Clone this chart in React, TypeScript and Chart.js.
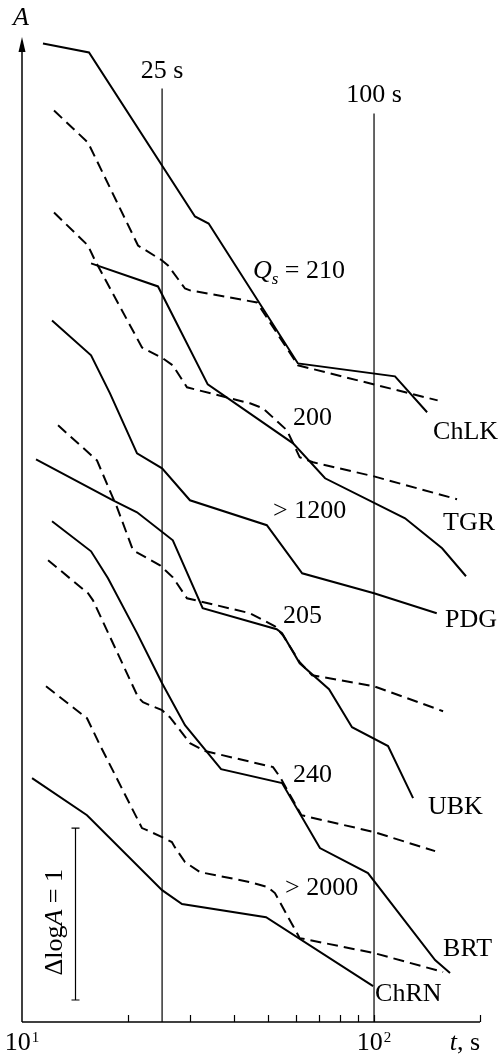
import { useEffect, useRef } from "react";
import { Chart, registerables } from "chart.js";

Chart.register(...registerables);

// Time axis (s), logarithmic
const T_MIN = 10;
const T_MAX = 200;
const X_TICKS = [20, 30, 40, 50, 60, 70, 80, 90, 100, 200];
const X_TICK_LABELS = [
  { t: 10, base: "10", exp: "1" },
  { t: 100, base: "10", exp: "2" },
];
// Amplitude axis in log A units (arbitrary origin)
const LOGA_MIN = 0;
const LOGA_MAX = 5.73;

// Reference times
const REF_TIMES = [25, 100];
const REF_TOPS = [5.43, 5.285];
const REF_LABELS = ["25 s", "100 s"];
const REF_LABEL_Y = [5.494, 5.349];

// ChLK
const chlkSolidT = [11.47, 15.5, 31.0, 33.9, 60.8, 114.7, 141.5];
const chlkSolidA = [5.692, 5.64, 4.686, 4.645, 3.831, 3.756, 3.547];
const chlkDashT = [12.33, 15.4, 21.36, 25.0, 25.99, 29.04, 30.0, 46.5, 60.8, 151.6];
const chlkDashA = [5.302, 5.116, 4.517, 4.43, 4.401, 4.267, 4.256, 4.186, 3.82, 3.616];

// TGR
const tgrSolidT = [15.71, 24.34, 33.7, 58.9, 72.6, 122.5, 156.1, 182.5];
const tgrSolidA = [4.413, 4.279, 3.709, 3.366, 3.163, 2.93, 2.756, 2.593];
const tgrDashT = [12.33, 15.4, 16.12, 21.92, 25.15, 26.82, 29.42, 44.43, 48.38, 56.6, 61.5, 67.1, 100, 172.1];
const tgrDashA = [4.709, 4.517, 4.43, 3.924, 3.86, 3.82, 3.692, 3.599, 3.57, 3.442, 3.285, 3.256, 3.174, 3.041];

// PDG
const pdgSolidT = [12.17, 15.71, 17.78, 21.22, 25.0, 30.0, 49.6, 62.5, 100, 150.7];
const pdgSolidA = [4.081, 3.878, 3.657, 3.308, 3.221, 3.035, 2.89, 2.61, 2.494, 2.378];

// UBK
const ubkSolidT = [10.96, 18.14, 21.22, 26.82, 32.6, 52.9, 54.8, 61.5, 74.5, 86.6, 109.6, 129.1];
const ubkSolidA = [3.273, 3.035, 2.965, 2.802, 2.407, 2.285, 2.262, 2.087, 1.936, 1.715, 1.605, 1.302];
const ubkDashT = [12.66, 16.33, 18.14, 18.62, 20.67, 24.66, 26.82, 29.42, 44.43, 52.3, 55.1, 61.5, 66.7, 100, 157.1];
const ubkDashA = [3.471, 3.267, 3.047, 2.994, 2.744, 2.657, 2.587, 2.465, 2.378, 2.302, 2.25, 2.093, 2.017, 1.953, 1.808];

// BRT
const brtSolidT = [12.17, 15.71, 17.55, 21.22, 25.0, 29.04, 36.77, 54.8, 70.2, 96.1, 149.1, 164.4];
const brtSolidA = [2.913, 2.738, 2.581, 2.262, 1.971, 1.727, 1.471, 1.39, 1.012, 0.866, 0.36, 0.285];
const brtDashT = [11.86, 15.4, 15.91, 21.36, 22.06, 25.0, 26.31, 30.0, 33.1, 51.66, 54.1, 62.2, 100, 149.1];
const brtDashA = [2.686, 2.494, 2.453, 1.89, 1.86, 1.814, 1.773, 1.622, 1.576, 1.483, 1.424, 1.203, 1.105, 0.994];

// ChRN
const chrnSolidT = [10.68, 15.3, 25.0, 28.48, 49.35, 99.4];
const chrnSolidA = [1.419, 1.203, 0.767, 0.686, 0.61, 0.209];
const chrnDashT = [11.7, 15.3, 16.66, 21.92, 22.64, 25.0, 26.65, 27.17, 29.04, 32.03, 44.43, 49.9, 52.3, 61.5, 100, 157.1];
const chrnDashA = [1.953, 1.767, 1.61, 1.128, 1.116, 1.076, 1.047, 1.017, 0.93, 0.872, 0.814, 0.785, 0.75, 0.488, 0.401, 0.291];

// Curve annotations: text, anchor (t, log A) at left baseline
const CURVE_LABELS = [
  { text: "200", t: 58.9, a: 3.471 },
  { text: "ChLK", t: 147.1, a: 3.39 },
  { text: "> 1200", t: 51.66, a: 2.93 },
  { text: "TGR", t: 157.1, a: 2.86 },
  { text: "PDG", t: 159.1, a: 2.297 },
  { text: "205", t: 55.1, a: 2.32 },
  { text: "240", t: 58.9, a: 1.395 },
  { text: "UBK", t: 142.3, a: 1.209 },
  { text: "> 2000", t: 55.9, a: 0.738 },
  { text: "BRT", t: 157.1, a: 0.384 },
  { text: "ChRN", t: 100.7, a: 0.122 },
];
const QS_LABEL = { t: 45.3, a: 4.326, value: "210" };

// Scale bar for one decade of amplitude
const BAR_T = 14.15;
const BAR_FROM = 0.128;
const BAR_TEXT_T = 12.95;
const BAR_TEXT_A = 0.58;

const FONT = "'Liberation Serif', 'Times New Roman', serif";

const pts = (ts: number[], as: number[]) => ts.map((t, i) => ({ x: t, y: as[i] }));

const solid = (ts: number[], as: number[]) => ({
  data: pts(ts, as),
  borderColor: "#000",
  borderWidth: 2,
  pointRadius: 0,
  fill: false,
  tension: 0,
});
const dashed = (ts: number[], as: number[]) => ({
  ...solid(ts, as),
  borderDash: [11, 6],
});

const annotate = {
  id: "annotate",
  afterDraw(chart: any) {
    const { ctx, chartArea } = chart;
    const xs = chart.scales.x;
    const ys = chart.scales.y;
    const X = (t: number) => xs.getPixelForValue(t);
    const Y = (a: number) => ys.getPixelForValue(a);
    ctx.save();
    ctx.strokeStyle = "#000";
    ctx.fillStyle = "#000";

    const x0 = X(T_MIN);
    const y0 = Y(LOGA_MIN);
    const top = chartArea.top;

    // axes
    ctx.lineWidth = 1.5;
    ctx.beginPath();
    ctx.moveTo(x0, y0);
    ctx.lineTo(X(T_MAX), y0);
    ctx.stroke();
    ctx.beginPath();
    ctx.moveTo(x0, y0);
    ctx.lineTo(x0, top + 8);
    ctx.stroke();
    // arrow head
    ctx.beginPath();
    ctx.moveTo(x0, top);
    ctx.lineTo(x0 - 3.5, top + 15);
    ctx.lineTo(x0 + 3.5, top + 15);
    ctx.closePath();
    ctx.fill();

    // ticks pointing inward
    ctx.lineWidth = 1.2;
    X_TICKS.forEach((t) => {
      const px = Math.round(X(t)) + 0.5;
      ctx.beginPath();
      ctx.moveTo(px, y0);
      ctx.lineTo(px, y0 - 7);
      ctx.stroke();
    });

    // tick labels 10^n
    ctx.textBaseline = "alphabetic";
    X_TICK_LABELS.forEach((lab) => {
      ctx.font = `26px ${FONT}`;
      const w1 = ctx.measureText(lab.base).width;
      ctx.font = `15px ${FONT}`;
      const w2 = ctx.measureText(lab.exp).width;
      const start = X(lab.t) - (w1 + w2 + 1) / 2;
      ctx.font = `26px ${FONT}`;
      ctx.textAlign = "left";
      ctx.fillText(lab.base, start, y0 + 28);
      ctx.font = `15px ${FONT}`;
      ctx.fillText(lab.exp, start + w1 + 1, y0 + 20);
    });

    // axis titles
    ctx.font = `italic 26px ${FONT}`;
    ctx.textAlign = "left";
    const tW = ctx.measureText("t").width;
    ctx.font = `26px ${FONT}`;
    const sW = ctx.measureText(", s").width;
    const tx = X(T_MAX) - tW - sW;
    ctx.font = `italic 26px ${FONT}`;
    ctx.fillText("t", tx, y0 + 28);
    ctx.font = `26px ${FONT}`;
    ctx.fillText(", s", tx + tW, y0 + 28);
    ctx.font = `italic 26px ${FONT}`;
    ctx.textAlign = "center";
    ctx.fillText("A", x0 - 1, top - 12);

    // reference time labels
    ctx.font = `26px ${FONT}`;
    REF_TIMES.forEach((t, i) => {
      ctx.fillText(REF_LABELS[i], X(t), Y(REF_LABEL_Y[i]));
    });

    // curve labels
    ctx.textAlign = "left";
    CURVE_LABELS.forEach((l) => {
      ctx.fillText(l.text, X(l.t), Y(l.a));
    });

    // Q_s = 210
    let qx = X(QS_LABEL.t);
    const qy = Y(QS_LABEL.a);
    ctx.font = `italic 26px ${FONT}`;
    ctx.fillText("Q", qx, qy);
    qx += ctx.measureText("Q").width;
    ctx.font = `italic 17px ${FONT}`;
    ctx.fillText("s", qx, qy + 6);
    qx += ctx.measureText("s").width;
    ctx.font = `26px ${FONT}`;
    ctx.fillText(" = " + QS_LABEL.value, qx, qy);

    // scale bar: Δlog A = 1
    const bx = Math.round(X(BAR_T)) + 0.5;
    const b0 = Y(BAR_FROM);
    const b1 = Y(BAR_FROM + 1);
    ctx.lineWidth = 1.2;
    ctx.beginPath();
    ctx.moveTo(bx, b0);
    ctx.lineTo(bx, b1);
    ctx.moveTo(bx - 4, b0);
    ctx.lineTo(bx + 4, b0);
    ctx.moveTo(bx - 4, b1);
    ctx.lineTo(bx + 4, b1);
    ctx.stroke();

    ctx.translate(X(BAR_TEXT_T), Y(BAR_TEXT_A));
    ctx.rotate(-Math.PI / 2);
    ctx.font = `26px ${FONT}`;
    const p1 = "\u0394log";
    const p3 = " = 1";
    ctx.font = `26px ${FONT}`;
    const w1 = ctx.measureText(p1).width;
    const w3 = ctx.measureText(p3).width;
    ctx.font = `italic 26px ${FONT}`;
    const w2 = ctx.measureText("A").width;
    let sx = -(w1 + w2 + w3) / 2;
    ctx.textAlign = "left";
    ctx.font = `26px ${FONT}`;
    ctx.fillText(p1, sx, 0);
    sx += w1;
    ctx.font = `italic 26px ${FONT}`;
    ctx.fillText("A", sx, 0);
    sx += w2;
    ctx.font = `26px ${FONT}`;
    ctx.fillText(p3, sx, 0);

    ctx.restore();
  },
};

export default function App() {
  const ref = useRef<HTMLCanvasElement | null>(null);

  useEffect(() => {
    if (!ref.current) return;
    const refLines = REF_TIMES.map((t, i) => ({
      data: [
        { x: t, y: REF_TOPS[i] },
        { x: t, y: LOGA_MIN },
      ],
      borderColor: "#000",
      borderWidth: 1.2,
      pointRadius: 0,
      fill: false,
    }));
    const chart = new Chart(ref.current, {
      type: "line",
      data: {
        datasets: [
          ...refLines,
          solid(chlkSolidT, chlkSolidA),
          dashed(chlkDashT, chlkDashA),
          solid(tgrSolidT, tgrSolidA),
          dashed(tgrDashT, tgrDashA),
          solid(pdgSolidT, pdgSolidA),
          solid(ubkSolidT, ubkSolidA),
          dashed(ubkDashT, ubkDashA),
          solid(brtSolidT, brtSolidA),
          dashed(brtDashT, brtDashA),
          solid(chrnSolidT, chrnSolidA),
          dashed(chrnDashT, chrnDashA),
        ] as any,
      },
      options: {
        animation: false,
        responsive: false,
        devicePixelRatio: 1,
        layout: { padding: { left: 22, right: 21, top: 37, bottom: 32 } },
        plugins: {
          legend: { display: false },
          tooltip: { enabled: false },
        },
        elements: { line: { borderCapStyle: "butt", borderJoinStyle: "miter" } },
        scales: {
          x: { type: "logarithmic", min: T_MIN, max: T_MAX, display: false },
          y: { type: "linear", min: LOGA_MIN, max: LOGA_MAX, display: false },
        },
      },
      plugins: [annotate],
    });
    return () => chart.destroy();
  }, []);

  return (
    <div style={{ position: "absolute", left: 0, top: 0, width: 501, height: 1054, background: "#fff" }}>
      <canvas ref={ref} width={501} height={1054} style={{ display: "block" }} />
    </div>
  );
}
